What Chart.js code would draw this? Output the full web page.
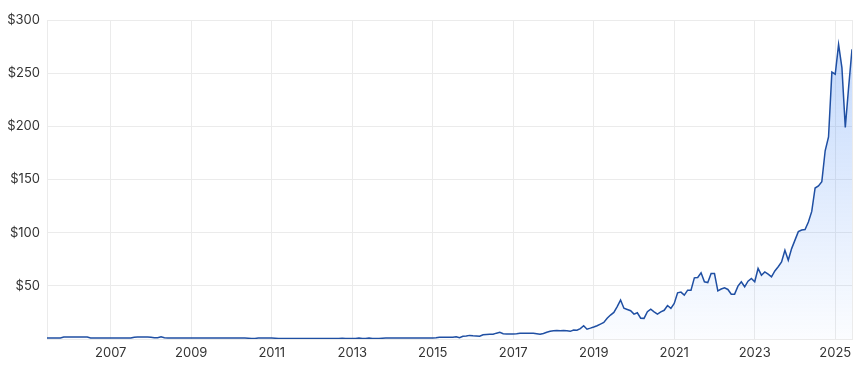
<!DOCTYPE html>
<html>
<head>
<meta charset="utf-8">
<script src="https://cdn.jsdelivr.net/npm/chart.js@4"></script>
<style>
  html, body { margin: 0; padding: 0; background: #fff; }
  #wrap { width: 868px; height: 371px; }
</style>
</head>
<body>
<div id="wrap"><canvas id="chart1"></canvas></div>
<script>
// Monthly closing prices, Jun 2005 .. Jun 2025
const startYear = 2005;
const startMonth = 6; // June

const p2005 = [0.9, 0.9, 0.9, 0.9, 0.9, 1.8, 1.8];
const p2006 = [1.8, 1.8, 1.8, 1.8, 1.8, 1.8, 0.9, 0.9, 0.9, 0.9, 0.9, 0.9];
const p2007 = [0.9, 0.9, 0.9, 0.9, 0.9, 0.9, 0.9, 1.7, 1.8, 1.8, 1.8, 1.8];
const p2008 = [1.7, 1.2, 1.1, 2.1, 1.1, 0.9, 0.9, 0.9, 0.9, 0.9, 0.9, 0.9];
const p2009 = [0.9, 0.9, 0.9, 0.9, 0.9, 0.9, 0.9, 0.9, 0.9, 0.9, 0.9, 0.9];
const p2010 = [0.9, 0.9, 0.9, 0.9, 0.9, 0.8, 0.4, 0.5, 0.9, 0.9, 0.9, 0.9];
const p2011 = [0.9, 0.7, 0.4, 0.4, 0.4, 0.4, 0.4, 0.4, 0.4, 0.4, 0.4, 0.4];
const p2012 = [0.4, 0.4, 0.4, 0.4, 0.4, 0.4, 0.4, 0.4, 0.5, 0.8, 0.4, 0.4];
const p2013 = [0.4, 0.4, 0.9, 0.4, 0.4, 0.9, 0.4, 0.4, 0.4, 0.8, 0.9, 0.9];
const p2014 = [0.9, 0.9, 0.9, 0.9, 0.9, 0.9, 0.9, 0.9, 1.0, 1.0, 1.0, 1.0];
const p2015 = [0.9, 1.1, 1.6, 1.6, 1.6, 1.6, 1.7, 2.2, 1.2, 2.5, 2.8, 3.4];
const p2016 = [3.0, 2.8, 2.6, 4.0, 4.2, 4.4, 4.4, 5.5, 6.3, 5.0, 4.8, 4.7];
const p2017 = [4.8, 5.0, 5.3, 5.3, 5.3, 5.4, 5.3, 5.0, 4.4, 5.2, 6.3, 7.2];
const p2018 = [7.8, 7.9, 7.8, 7.9, 7.8, 7.2, 8.5, 8.3, 9.8, 12.5, 9.2, 10.2];
const p2019 = [11.3, 12.5, 14.0, 15.5, 19.5, 22.5, 25.0, 30.5, 36.6, 29.0, 27.8, 26.6];
const p2020 = [23.4, 24.7, 19.6, 19.4, 25.6, 28.1, 25.6, 23.4, 25.5, 27.0, 31.5, 28.8];
const p2021 = [33.4, 43.4, 44.1, 41.3, 45.9, 45.9, 57.5, 57.8, 62.2, 53.8, 53.1, 61.6];
const p2022 = [61.6, 45.3, 47.0, 48.1, 46.6, 42.2, 42.2, 49.7, 53.8, 49.1, 54.4, 56.9];
const p2023 = [53.8, 66.3, 60.0, 63.1, 61.0, 58.4, 64.0, 68.0, 72.5, 83.4, 74.1, 85.0];
const p2024 = [93.0, 101.0, 102.5, 103.0, 110.0, 120.0, 142.0, 144.0, 148.0, 177.0, 190.0, 251.0];
const p2025 = [249.0, 277.0, 255.0, 199.0, 237.0, 272.5];

const prices = [].concat(p2005, p2006, p2007, p2008, p2009, p2010, p2011, p2012, p2013,
    p2014, p2015, p2016, p2017, p2018, p2019, p2020, p2021, p2022, p2023, p2024, p2025);

const yearTicks = [2007, 2009, 2011, 2013, 2015, 2017, 2019, 2021, 2023, 2025];
const priceTicks = [0, 50, 100, 150, 200, 250, 300];

// x position of each month as a decimal year
const points = prices.map((v, i) => ({ x: startYear + (startMonth - 1 + i) / 12, y: v }));
const xMin = points[0].x;
const xMax = points[points.length - 1].x;

const gridColor = '#ebebeb';
const textColor = '#333333';
const lineColor = '#1f4fa3';

Chart.defaults.font.family = 'Inter, "Liberation Sans", sans-serif';
Chart.defaults.font.size = 13;
Chart.defaults.color = textColor;

const chart1 = new Chart(document.getElementById('chart1'), {
    type: 'line',
    data: {
        datasets: [{
            data: points,
            borderColor: lineColor,
            borderWidth: 1.5,
            pointRadius: 0,
            tension: 0,
            fill: 'start',
            backgroundColor: function(ctx) {
                const area = ctx.chart.chartArea;
                if (!area) return 'rgba(59,130,246,0.2)';
                const g = ctx.chart.ctx.createLinearGradient(0, area.top, 0, area.bottom);
                g.addColorStop(0, 'rgba(59,130,246,0.32)');
                g.addColorStop(1, 'rgba(59,130,246,0.02)');
                return g;
            }
        }]
    },
    options: {
        responsive: true,
        maintainAspectRatio: false,
        animation: false,
        layout: { padding: { top: 20, right: 16, left: 0, bottom: 0 } },
        plugins: { legend: { display: false }, tooltip: { enabled: false } },
        scales: {
            x: {
                type: 'linear',
                min: xMin,
                max: xMax,
                afterBuildTicks: function(axis) {
                    axis.ticks = yearTicks.map(v => ({ value: v })).concat([{ value: xMax }]);
                },
                afterFit: function(axis) { axis.height = 32; },
                grid: { color: gridColor, drawTicks: false },
                border: { color: gridColor },
                ticks: {
                    padding: 6,
                    maxRotation: 0,
                    autoSkip: false,
                    callback: function(value) {
                        return yearTicks.includes(value) ? String(value) : '';
                    }
                }
            },
            y: {
                min: 0,
                max: 300,
                afterBuildTicks: function(axis) {
                    axis.ticks = priceTicks.map(v => ({ value: v }));
                },
                afterFit: function(axis) { axis.width = 47; },
                grid: { color: gridColor, drawTicks: false },
                border: { color: gridColor },
                ticks: {
                    padding: 7,
                    callback: function(value) {
                        return value === 0 ? '' : '$' + value;
                    }
                }
            }
        }
    }
});
</script>
</body>
</html>
